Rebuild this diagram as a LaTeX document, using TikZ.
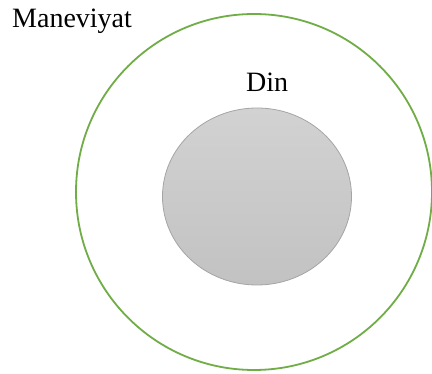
\documentclass[tikz,border=0pt]{standalone}
\usepackage{fontspec}
\setmainfont{Liberation Serif}
\newfontfamily\timesfont{Liberation Serif}
\usetikzlibrary{shapes.geometric}
\definecolor{ringgreen}{RGB}{112,173,71}
\definecolor{discTop}{RGB}{210,210,210}
\definecolor{discBot}{RGB}{194,194,194}
\definecolor{discLine}{RGB}{165,165,165}
\tikzset{
  ring/.style={circle, draw=ringgreen, line width=1.8pt, minimum size=356pt, inner sep=0pt},
  disc/.style={ellipse, draw=discLine, line width=0.8pt, top color=discTop, bottom color=discBot,
    minimum width=189pt, minimum height=177pt, inner sep=0pt},
  txtlabel/.style={anchor=base west, inner sep=0pt, font=\timesfont\fontsize{28}{32}\selectfont}
}
\begin{document}
\begin{tikzpicture}[x=1pt,y=-1pt]
\fill[white] (0,0) rectangle (432,374);
\clip (0,0) rectangle (432,374);
\node[ring] (outer) at (254,192) {};
\node[disc] (inner) at (257,196.5) {};
\node[txtlabel] (maneviyat) at (12,28) {Maneviyat};
\node[txtlabel] (din) at (246,92) {Din};
\end{tikzpicture}
\end{document}
